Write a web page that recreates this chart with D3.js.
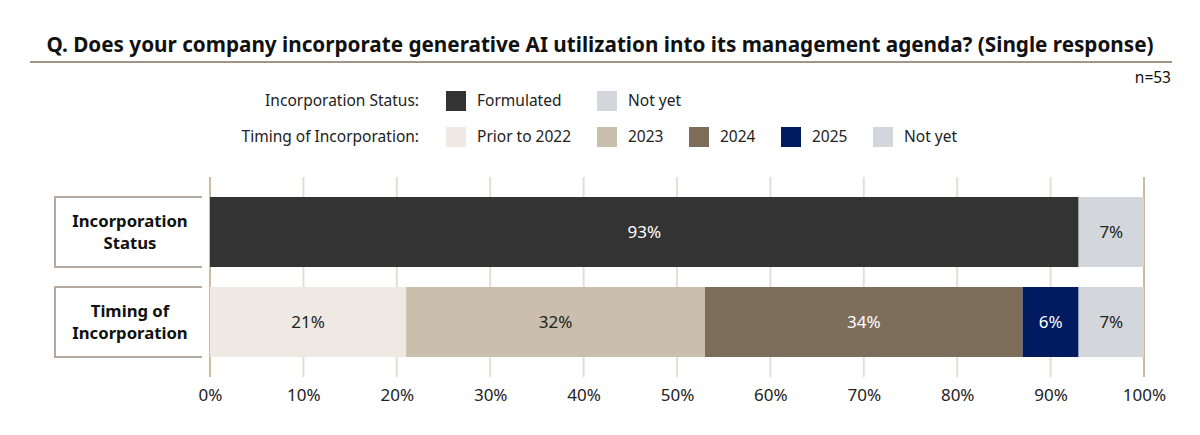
<!DOCTYPE html>
<html><head><meta charset="utf-8">
<script src="https://cdn.jsdelivr.net/npm/d3@7"></script>
<style>body{margin:0;background:#fff;} svg{display:block;font-family:"Noto Sans",sans-serif;}</style>
</head><body>
<svg id="c" width="1200" height="435"></svg>
<script>
const title = "Q. Does your company incorporate generative AI utilization into its management agenda? (Single response)";
const sampleNote = "n=53";
const rows = ["Incorporation Status", "Timing of Incorporation"];
const rowLines = [["Incorporation", "Status"], ["Timing of", "Incorporation"]];
const statusKeys = ["Formulated", "Not yet"];
const statusValues = [93, 7];
const timingKeys = ["Prior to 2022", "2023", "2024", "2025", "Not yet"];
const timingValues = [21, 32, 34, 6, 7];
const statusColors = ["#333333", "#d3d7db"];
const timingColors = ["#eeeae3", "#c9bfac", "#7d6e5b", "#001b5f", "#d3d7db"];
const statusText = ["#ffffff", "#222222"];
const timingText = ["#222222", "#222222", "#ffffff", "#ffffff", "#222222"];
const ticks = [0, 10, 20, 30, 40, 50, 60, 70, 80, 90, 100];

const svg = d3.select("#c");
const x = d3.scaleLinear().domain([0, 100]).range([210, 1144]);
const y = d3.scaleBand().domain(rows).range([197, 357]).paddingInner(20 / 90).paddingOuter(0);

// title
svg.append("text").attr("x", 600).attr("y", 52).attr("text-anchor", "middle")
  .attr("font-size", 20.7).attr("font-weight", "bold").attr("fill", "#111").text(title);
svg.append("line").attr("x1", 30).attr("x2", 1172).attr("y1", 62).attr("y2", 62)
  .attr("stroke", "#a39585").attr("stroke-width", 2);
svg.append("text").attr("x", 1171).attr("y", 83).attr("text-anchor", "end")
  .attr("font-size", 15.5).attr("fill", "#111").text(sampleNote);

// legend
const legRows = [
  {label: "Incorporation Status:", keys: statusKeys, colors: statusColors, xs: [446, 597], cy: 101},
  {label: "Timing of Incorporation:", keys: timingKeys, colors: timingColors, xs: [446, 597, 689, 781, 873], cy: 137}
];
legRows.forEach(r => {
  svg.append("text").attr("x", 419).attr("y", r.cy).attr("dy", "0.35em").attr("text-anchor", "end")
    .attr("font-size", 15.5).attr("fill", "#222").text(r.label);
  r.keys.forEach((k, i) => {
    svg.append("rect").attr("x", r.xs[i]).attr("y", r.cy - 10).attr("width", 20).attr("height", 20).attr("fill", r.colors[i]);
    svg.append("text").attr("x", r.xs[i] + 31).attr("y", r.cy).attr("dy", "0.35em")
      .attr("font-size", 15.5).attr("fill", "#222").text(k);
  });
});

// gridlines
svg.append("g").selectAll("line").data(ticks).join("line")
  .attr("x1", d => x(d)).attr("x2", d => x(d)).attr("y1", 177).attr("y2", 377)
  .attr("stroke", d => (d === 0 || d === 100) ? "#cbbb9f" : "#e4ded4").attr("stroke-width", 2);

// axis
const axis = svg.append("g").attr("transform", "translate(0,395)")
  .call(d3.axisBottom(x).tickValues(ticks).tickFormat(d => d + "%").tickSize(0).tickPadding(0));
axis.select(".domain").remove();
axis.selectAll("text").attr("font-size", 17).attr("fill", "#222").attr("dy", "0.35em").attr("font-family", "Noto Sans");

// bars
function drawRow(row, values, colors, textColors) {
  let acc = 0;
  const segs = values.map((v, i) => { const s = {x0: acc, x1: acc + v, v, i}; acc += v; return s; });
  const g = svg.append("g");
  g.selectAll("rect").data(segs).join("rect")
    .attr("x", d => x(d.x0)).attr("width", d => x(d.x1) - x(d.x0))
    .attr("y", y(row)).attr("height", y.bandwidth()).attr("fill", d => colors[d.i]);
  g.selectAll("text").data(segs).join("text")
    .attr("x", d => (x(d.x0) + x(d.x1)) / 2).attr("y", y(row) + y.bandwidth() / 2).attr("dy", "0.35em")
    .attr("text-anchor", "middle").attr("font-size", 17).attr("fill", d => textColors[d.i]).text(d => d.v + "%");
}
drawRow(rows[0], statusValues, statusColors, statusText);
drawRow(rows[1], timingValues, timingColors, timingText);

// row label boxes
rows.forEach((r, i) => {
  const y0 = y(r), y1 = y(r) + y.bandwidth();
  svg.append("path").attr("d", `M202,${y0} H55 V${y1} H202`).attr("fill", "none")
    .attr("stroke", "#b5aa9d").attr("stroke-width", 2);
  const t = svg.append("text").attr("x", 130).attr("text-anchor", "middle")
    .attr("font-size", 16.7).attr("font-weight", "bold").attr("fill", "#111");
  rowLines[i].forEach((ln, j) => {
    t.append("tspan").attr("x", 130).attr("y", (y0 + y1) / 2 + (j - 0.5) * 21.5).attr("dy", "0.35em").text(ln);
  });
});
</script>
</body></html>
